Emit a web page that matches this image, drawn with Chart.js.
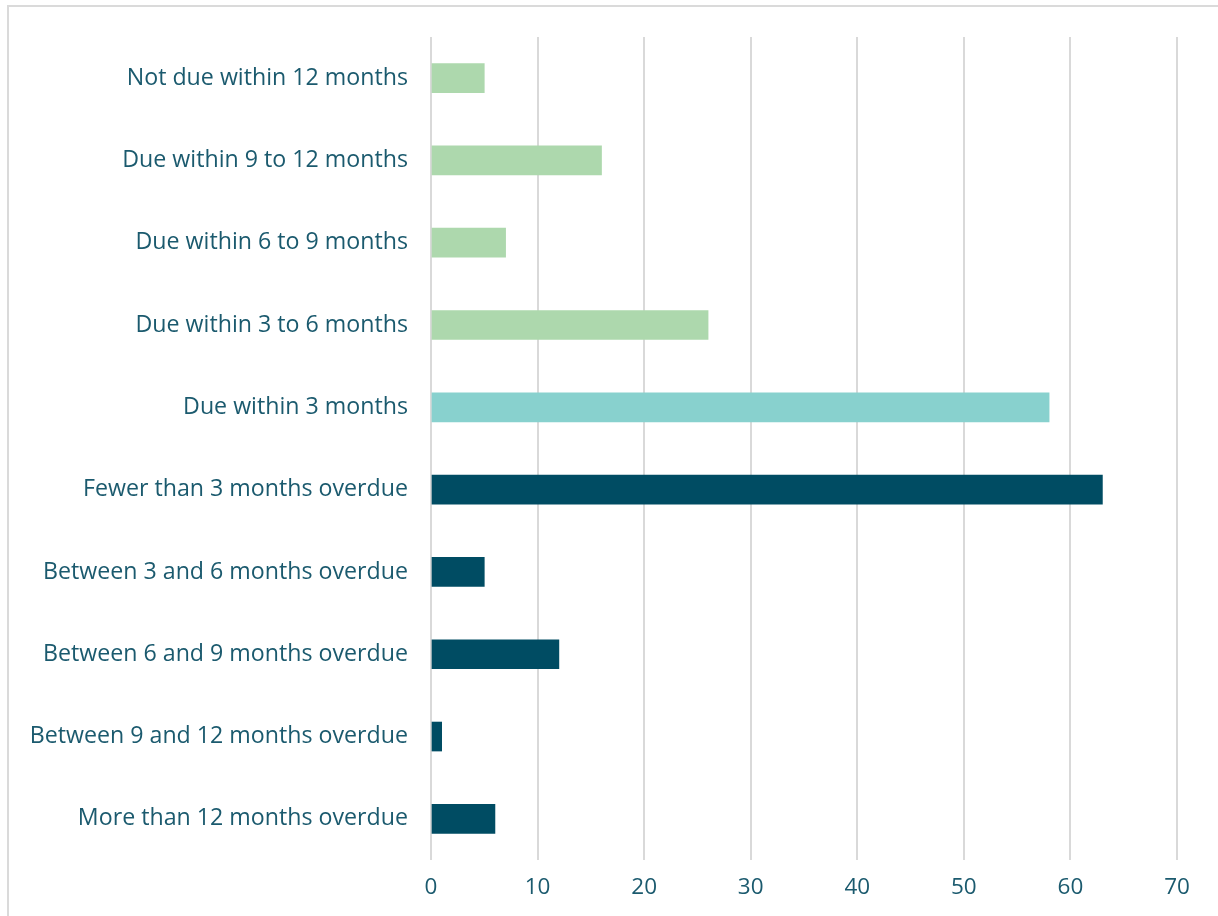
<!DOCTYPE html>
<html>
<head>
<meta charset="utf-8">
<script src="https://cdn.jsdelivr.net/npm/chart.js@4"></script>
<style>
  html, body { margin: 0; padding: 0; background: #fff; overflow: hidden; }
  #wrap { position: relative; width: 1218px; height: 916px; }
  #frame { position: absolute; left: 7px; top: 5px; width: 1300px; height: 1000px;
           border-top: 2px solid #dadada; border-left: 2px solid #dadada; pointer-events: none; }
  canvas { position: absolute; left: 0; top: 0; }
</style>
</head>
<body>
<div id="wrap">
  <canvas id="c" width="1218" height="916"></canvas>
  <div id="frame"></div>
</div>
<script>
const categories = [
  "Not due within 12 months",
  "Due within 9 to 12 months",
  "Due within 6 to 9 months",
  "Due within 3 to 6 months",
  "Due within 3 months",
  "Fewer than 3 months overdue",
  "Between 3 and 6 months overdue",
  "Between 6 and 9 months overdue",
  "Between 9 and 12 months overdue",
  "More than 12 months overdue"
];
const values = [5, 16, 7, 26, 58, 63, 5, 12, 1, 6];
const status = ["later", "later", "later", "later", "soon", "overdue", "overdue", "overdue", "overdue", "overdue"];
const xTicks = [0, 10, 20, 30, 40, 50, 60, 70];

const statusColor = { later: "#add8ad", soon: "#88d1ce", overdue: "#004c63" };
const textColor = "#1b5a6e";
const fontFamily = "'Open Sans', 'Noto Sans', sans-serif";

new Chart(document.getElementById("c"), {
  type: "bar",
  data: {
    labels: categories,
    datasets: [{
      data: values,
      backgroundColor: status.map(s => statusColor[s]),
      borderWidth: 0,
      barThickness: 29
    }]
  },
  options: {
    indexAxis: "y",
    responsive: false,
    animation: false,
    layout: { padding: { left: 0, right: 41, top: 33, bottom: 0 } },
    plugins: { legend: { display: false }, tooltip: { enabled: false } },
    scales: {
      x: {
        min: 0, max: 70,
        afterBuildTicks: s => { s.ticks = xTicks.map(v => ({ value: v })); },
        grid: { color: "#d9d9d9", lineWidth: 2, drawTicks: false },
        border: { display: false },
        ticks: { color: textColor, font: { family: fontFamily, size: 22.5 }, padding: 14 },
        afterFit: s => { s.height = 56; }
      },
      y: {
        grid: { display: false, drawTicks: false },
        border: { display: false },
        ticks: { color: textColor, font: { family: fontFamily, size: 23.2 }, padding: 23 },
        afterFit: s => { s.width = 431; }
      }
    }
  }
});
</script>
</body>
</html>
